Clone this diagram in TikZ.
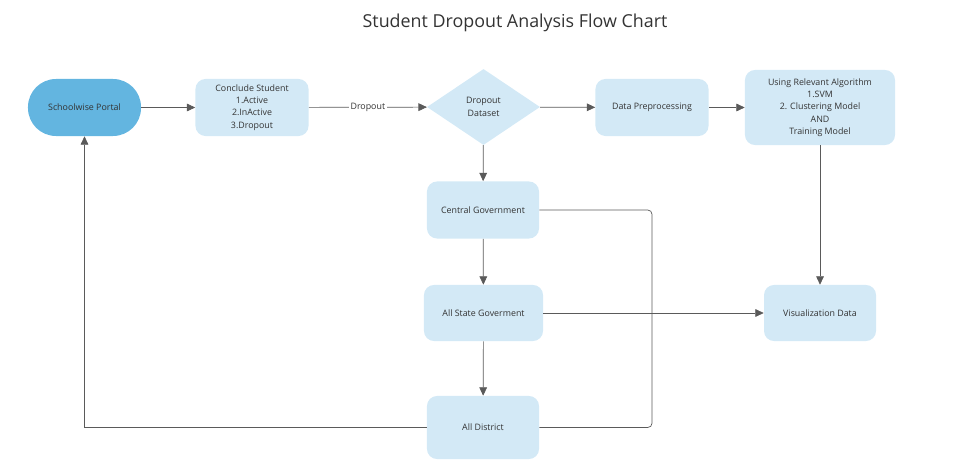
\documentclass[tikz,border=0pt]{standalone}
\usepackage{fontspec}
\setmainfont{Open Sans}
\usetikzlibrary{arrows.meta,shapes.geometric}
\definecolor{boxblue}{HTML}{D3E9F6}
\definecolor{portalblue}{HTML}{63B5E0}
\definecolor{linegray}{HTML}{5A5A5A}
\definecolor{textgray}{HTML}{333333}
\tikzset{
  flowbox/.style={fill=boxblue, rounded corners=0.25cm, minimum width=2.825cm,
    minimum height=1.425cm, align=center, inner sep=1pt, text=textgray,
    font=\fontsize{6.3}{8.7}\selectfont},
  flowline/.style={draw=linegray, line width=0.5pt},
  flowarrow/.style={flowline, -{Triangle[length=6pt,width=5.5pt]}},
}
\begin{document}
\begin{tikzpicture}[x=0.025cm,y=-0.025cm]
\useasboundingbox (0,0) rectangle (957,471);
\node (title) at (515,23) [text=textgray] {\fontsize{12.7}{15}\selectfont Student Dropout Analysis Flow Chart};

% top row
\node (portal) at (84.5,107.5) [flowbox, fill=portalblue, rounded corners=0.7cm] {Schoolwise Portal};
\node (conclude) at (252,107.5) [flowbox] {Conclude Student\\1.Active\\2.InActive\\3.Dropout};
\node (dataset) at (483.5,107) [diamond, fill=boxblue, aspect=1.5, inner sep=0pt,
  minimum width=2.825cm, minimum height=1.9cm, align=center, text=textgray,
  font=\fontsize{6.3}{8.7}\selectfont] {Dropout\\Dataset};
\node (preproc) at (652,107.5) [flowbox] {Data Preprocessing};
\node (algo) at (820,107.5) [flowbox, minimum width=3.75cm, minimum height=1.875cm]
  {Using Relevant Algorithm\\1.SVM\\2. Clustering Model\\AND\\Training Model};

% government column
\node (central) at (483,210) [flowbox, minimum width=2.8cm] {Central Government};
\node (state) at (483.5,313) [flowbox, minimum width=2.975cm, minimum height=1.4cm] {All State Goverment};
\node (district) at (483,427.5) [flowbox, minimum width=2.8cm, minimum height=1.575cm] {All District};
\node (visual) at (820,313) [flowbox, minimum width=2.8cm, minimum height=1.4cm] {Visualization Data};
\coordinate (junc) at (652,313);

% connectors
\draw [flowarrow] (portal) -- (conclude);
\draw [flowarrow] (conclude) -- node [fill=white, inner sep=1pt, text=textgray,
  font=\fontsize{6.3}{8.7}\selectfont] {Dropout} (dataset);
\draw [flowarrow] (dataset) -- (preproc);
\draw [flowarrow] (preproc) -- (algo);
\draw [flowarrow] (algo) -- (visual);
\draw [flowarrow] (dataset) -- (central);
\draw [flowarrow] (central) -- (state);
\draw [flowarrow] (state) -- (district);
\draw [flowline, rounded corners=3pt] (central.east) -| (junc);
\draw [flowline, rounded corners=3pt] (district.east) -| (junc);
\draw [flowarrow] (state) -- (visual);
\draw [flowarrow] (district.west) -| (portal.south);
\end{tikzpicture}
\end{document}
